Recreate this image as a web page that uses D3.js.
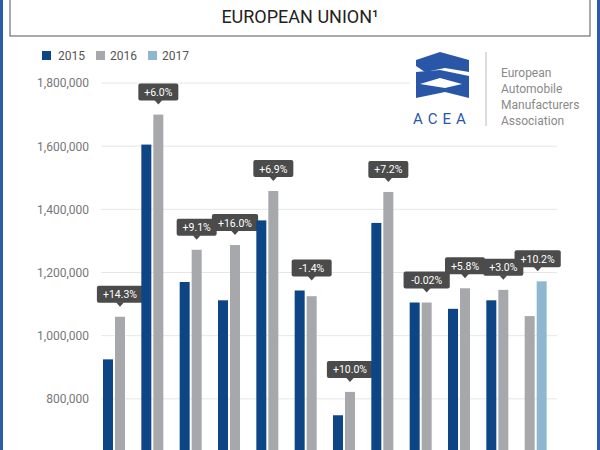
<!DOCTYPE html><html><head><meta charset="utf-8">
<script src="https://cdn.jsdelivr.net/npm/d3@7"></script>
<style>body{margin:0;background:#fff}svg{display:block;font-family:Roboto,"Open Sans",sans-serif}</style></head><body>
<svg id="c" width="600" height="450"></svg>
<script>
const months=["Jan","Feb","Mar","Apr","May","Jun","Jul","Aug","Sep","Oct","Nov","Dec"];
const v2015=[925000,1605000,1170000,1112000,1365000,1143000,748000,1357000,1105000,1085000,1112000,null];
const v2016=[1060000,1700000,1272000,1287000,1458000,1125000,822000,1455000,1105000,1150000,1145000,1062000];
const v2017=[null,null,null,null,null,null,null,null,null,null,null,1172000];
const changes=["+14.3%","+6.0%","+9.1%","+16.0%","+6.9%","-1.4%","+10.0%","+7.2%","-0.02%","+5.8%","+3.0%","+10.2%"];
const yTicks=[800000,1000000,1200000,1400000,1600000,1800000];
const series=["2015","2016","2017"];
const colors=["#0d4585","#a7a8ab","#8fb8d0"];

const svg=d3.select("#c");
svg.append("rect").attr("x",1.5).attr("y",-5).attr("width",597).attr("height",460).attr("fill","none").attr("stroke","#2a5caa").attr("stroke-width",3);
svg.append("rect").attr("x",10).attr("y",-5).attr("width",580).attr("height",41).attr("fill","#fff").attr("stroke","#555").attr("stroke-width",1);
svg.append("text").attr("x",300).attr("y",23).attr("text-anchor","middle").attr("font-size",18).attr("fill","#222").text("EUROPEAN UNION¹");

const y=d3.scaleLinear().domain([600000,1800000]).range([462,83]);
const x=d3.scaleBand().domain(months).range([92,552]).paddingInner(0).paddingOuter(0);
const bw=10;
const gl=svg.append("g");
yTicks.forEach(t=>{
  gl.append("line").attr("x1",101).attr("x2",t===1800000?410:557).attr("y1",y(t)).attr("y2",y(t)).attr("stroke","#e6e6e6");
});
svg.append("g").attr("transform","translate(92,0)").call(d3.axisLeft(y).tickValues(yTicks).tickFormat(d3.format(",")).tickSize(0))
 .call(g=>{g.select(".domain").remove();g.selectAll("text").attr("font-size",12).attr("fill","#777").attr("font-family","Roboto,sans-serif");});

const data=[v2015,v2016,v2017];
months.forEach((m,i)=>{
  const x0=x(m)+11;
  const offs=i===11?[null,0,12]:[0,12,null];
  data.forEach((arr,s)=>{
    if(arr[i]==null)return;
    const xs=x0+offs[s];
    svg.append("rect").attr("x",xs).attr("y",y(arr[i])).attr("width",bw).attr("height",462-y(arr[i])).attr("fill",colors[s]);
  });
  const top=Math.max(...data.map(a=>a[i]||0));
  const cx=x0+12+bw/2+(i===11?-4:0);
  const ty=y(top)-10;
  const g=svg.append("g");
  const w=changes[i].length*6.2+9;
  g.append("rect").attr("x",cx-w/2).attr("y",ty-21).attr("width",w).attr("height",17).attr("rx",2).attr("fill","#4b4b4b");
  g.append("path").attr("d",`M${cx-4},${ty-4.5}L${cx+4},${ty-4.5}L${cx},${ty}Z`).attr("fill","#4b4b4b");
  g.append("text").attr("x",cx).attr("y",ty-8.5).attr("text-anchor","middle").attr("font-size",10.5).attr("fill","#fff").text(changes[i]);
});

const lg=svg.append("g");
[[42,58],[96,110],[148,162]].forEach((p,i)=>{
  lg.append("rect").attr("x",p[0]).attr("y",51).attr("width",9).attr("height",9).attr("fill",colors[i]);
  lg.append("text").attr("x",p[1]).attr("y",60).attr("font-size",12).attr("fill","#555").text(series[i]);
});

const lo=svg.append("g");
lo.append("path").attr("d","M416,60 L440,52 L469,60 L469,72 L445,68 L425,72 L416,66 Z").attr("fill","#2a56a8");
lo.append("path").attr("d","M416,72 L440,70 L469,76 L469,98 L445,92 L416,98 Z").attr("fill","#2a56a8");
lo.append("path").attr("d","M420,84 L440,78 L462,84 L445,88 Z").attr("fill","#fff");
lo.append("text").attr("x",442).attr("y",124).attr("text-anchor","middle").attr("font-size",15).attr("letter-spacing",5).attr("fill","#2a56a8").text("ACEA");
lo.append("line").attr("x1",486).attr("x2",486).attr("y1",52).attr("y2",126).attr("stroke","#bbb");
["European","Automobile","Manufacturers","Association"].forEach((t,i)=>{
  lo.append("text").attr("x",501).attr("y",77+i*16).attr("font-size",12).attr("fill","#8a8a8a").text(t);
});
</script></body></html>
